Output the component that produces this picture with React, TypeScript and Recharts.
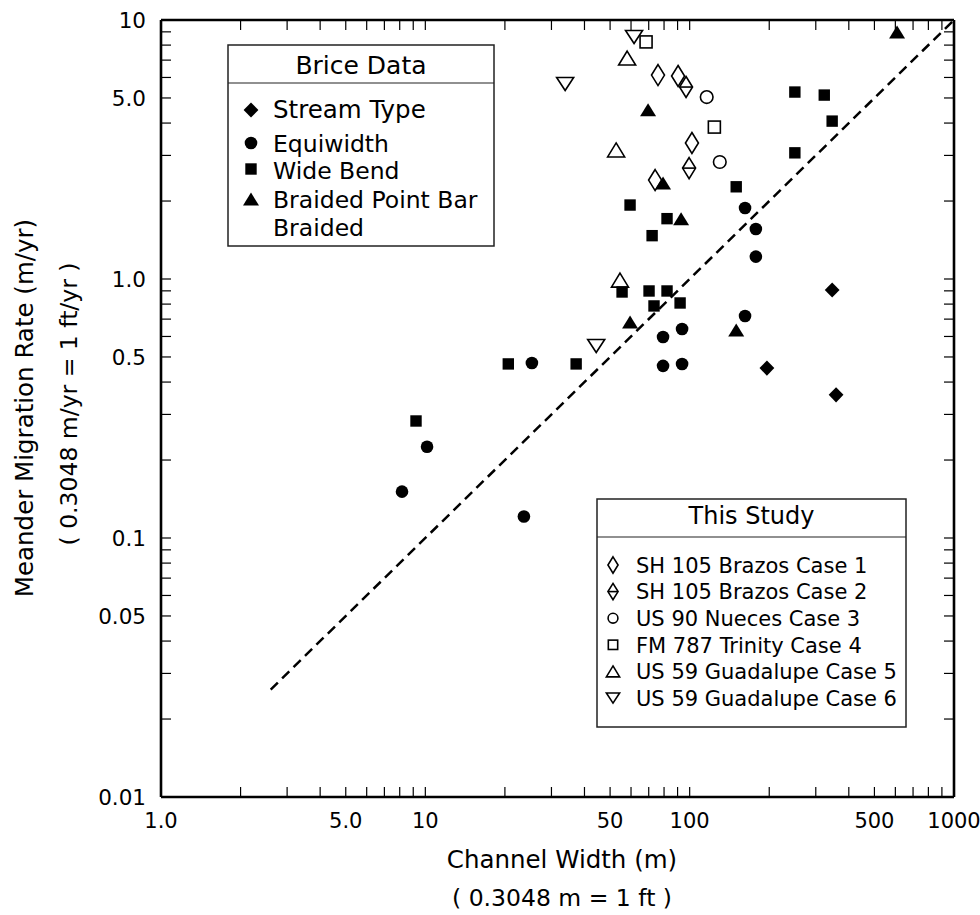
import React from 'react';
import { ScatterChart, Scatter, XAxis, YAxis, ReferenceLine } from 'recharts';

const FONT = '"DejaVu Sans", "Liberation Sans", sans-serif';

// channel width (m), migration rate (m/yr)
const streamType = [[346, 0.907], [196, 0.453], [358, 0.357]];
const equiwidth = [
  [8.16, 0.151], [10.15, 0.225], [23.6, 0.121], [25.3, 0.474], [79.3, 0.597], [79.3, 0.462],
  [93.6, 0.641], [93.6, 0.47], [162, 1.88], [178, 1.56], [178, 1.22], [162, 0.72],
];
const wideBend = [
  [9.22, 0.283], [20.6, 0.47], [37.2, 0.47], [55.5, 0.891], [70.2, 0.899], [82.1, 0.899],
  [73.3, 0.787], [92, 0.808], [59.5, 1.93], [72.1, 1.47], [82.1, 1.71], [250, 5.27],
  [323, 5.13], [346, 4.07], [250, 3.07], [150, 2.27],
];
const braidedPointBar = [[69.6, 4.5], [79.3, 2.35], [92.8, 1.71], [609, 8.99], [59.5, 0.682], [150, 0.636]];

const case1 = [[75.9, 6.13], [90.4, 6.08], [102, 3.35], [74, 2.41]];
const case2 = [[96.9, 5.51], [99.5, 2.68]];
const case3 = [[116, 5.04], [130, 2.83]];
const case4 = [[68.4, 8.23], [124, 3.86]];
const case5 = [[58, 7.13], [52.7, 3.15], [54.5, 0.99]];
const case6 = [[61.6, 8.6], [33.8, 5.66], [44.3, 0.551]];

// dashed line y = x / 100
const equalityLine = [[2.6, 0.026], [1000, 10]];

const X_TICKS = [1, 2, 3, 4, 5, 6, 7, 8, 9, 10, 20, 30, 40, 50, 60, 70, 80, 90, 100, 200, 300, 400, 500, 600, 700, 800, 900, 1000];
const Y_TICKS = [0.01, 0.02, 0.03, 0.04, 0.05, 0.06, 0.07, 0.08, 0.09, 0.1, 0.2, 0.3, 0.4, 0.5, 0.6, 0.7, 0.8, 0.9, 1, 2, 3, 4, 5, 6, 7, 8, 9, 10];
const X_LABELS: Record<number, string> = { 1: '1.0', 5: '5.0', 10: '10', 50: '50', 100: '100', 500: '500', 1000: '1000' };
const Y_LABELS: Record<number, string> = { 0.01: '0.01', 0.05: '0.05', 0.1: '0.1', 0.5: '0.5', 1: '1.0', 5: '5.0', 10: '10' };

const toPoints = (rows: number[][]) => rows.map(([w, r]) => ({ w, r }));

// plot box edges (margin.top and chart width - margin.right)
const PLOT_TOP = 20;
const PLOT_RIGHT = 954;
const TICK_LEN = 10;
const TICK_W = 1.2;

// bottom ticks also mirror onto the top edge
const BottomTick = ({ x, y, payload }: any) => {
  const label = X_LABELS[payload.value];
  return (
    <g>
      <line x1={x} y1={y} x2={x} y2={y - TICK_LEN} stroke="#000" strokeWidth={TICK_W} />
      <line x1={x} y1={PLOT_TOP} x2={x} y2={PLOT_TOP + TICK_LEN} stroke="#000" strokeWidth={TICK_W} />
      {label && (
        <text x={x} y={y + 31} textAnchor="middle" fontSize={21} fontFamily={FONT} fill="#000">
          {label}
        </text>
      )}
    </g>
  );
};
// left ticks also mirror onto the right edge
const LeftTick = ({ x, y, payload }: any) => {
  const label = Y_LABELS[payload.value];
  return (
    <g>
      <line x1={x} y1={y} x2={x + TICK_LEN} y2={y} stroke="#000" strokeWidth={TICK_W} />
      <line x1={PLOT_RIGHT} y1={y} x2={PLOT_RIGHT - TICK_LEN} y2={y} stroke="#000" strokeWidth={TICK_W} />
      {label && (
        <text x={x - 15} y={y + 7.8} textAnchor="end" fontSize={21.5} fontFamily={FONT} fill="#000">
          {label}
        </text>
      )}
    </g>
  );
};

// marker glyphs
const diamond = (cx: number, cy: number, hw: number, hh: number) =>
  `${cx},${cy - hh} ${cx + hw},${cy} ${cx},${cy + hh} ${cx - hw},${cy}`;
const upTri = (cx: number, cy: number, hw: number, hh: number) =>
  `${cx},${cy - hh} ${cx + hw},${cy + hh} ${cx - hw},${cy + hh}`;
const downTri = (cx: number, cy: number, hw: number, hh: number) =>
  `${cx},${cy + hh} ${cx + hw},${cy - hh} ${cx - hw},${cy - hh}`;

const SW = 1.6;
const mk = {
  fDiamond: (cx: number, cy: number, s = 1) => <polygon points={diamond(cx, cy, 7.4 * s, 7.6 * s)} fill="#000" />,
  fCircle: (cx: number, cy: number, s = 1) => <circle cx={cx} cy={cy} r={6.3 * s} fill="#000" />,
  fSquare: (cx: number, cy: number, s = 1) => (
    <rect x={cx - 5.7 * s} y={cy - 5.7 * s} width={11.4 * s} height={11.4 * s} fill="#000" />
  ),
  fTriangle: (cx: number, cy: number, s = 1) => <polygon points={upTri(cx, cy, 8 * s, 6.5 * s)} fill="#000" />,
  oDiamond: (cx: number, cy: number, s = 1) => (
    <polygon points={diamond(cx, cy, 6.5 * s, 10.5 * s)} fill="none" stroke="#000" strokeWidth={SW} />
  ),
  oDiamondBar: (cx: number, cy: number, s = 1) => (
    <g>
      <polygon points={diamond(cx, cy, 6.5 * s, 10.5 * s)} fill="none" stroke="#000" strokeWidth={SW} />
      <line x1={cx - 6.5 * s} y1={cy} x2={cx + 6.5 * s} y2={cy} stroke="#000" strokeWidth={SW} />
    </g>
  ),
  oCircle: (cx: number, cy: number, s = 1) => (
    <circle cx={cx} cy={cy} r={6.3 * s} fill="none" stroke="#000" strokeWidth={SW} />
  ),
  oSquare: (cx: number, cy: number, s = 1) => (
    <rect x={cx - 6 * s} y={cy - 6 * s} width={12 * s} height={12 * s} fill="none" stroke="#000" strokeWidth={SW} />
  ),
  oUp: (cx: number, cy: number, s = 1) => (
    <polygon points={upTri(cx, cy, 8.5 * s, 7 * s)} fill="none" stroke="#000" strokeWidth={SW} />
  ),
  oDown: (cx: number, cy: number, s = 1) => (
    <polygon points={downTri(cx, cy, 8.5 * s, 6.5 * s)} fill="none" stroke="#000" strokeWidth={SW} />
  ),
};

const shapeOf = (draw: (cx: number, cy: number) => React.ReactElement) => (p: any) => draw(p.cx, p.cy);

const SERIES = [
  { name: 'Stream Type', data: streamType, draw: mk.fDiamond },
  { name: 'Equiwidth', data: equiwidth, draw: mk.fCircle },
  { name: 'Wide Bend', data: wideBend, draw: mk.fSquare },
  { name: 'Braided Point Bar', data: braidedPointBar, draw: mk.fTriangle },
  { name: 'SH 105 Brazos Case 1', data: case1, draw: mk.oDiamond },
  { name: 'SH 105 Brazos Case 2', data: case2, draw: mk.oDiamondBar },
  { name: 'US 90 Nueces Case 3', data: case3, draw: mk.oCircle },
  { name: 'FM 787 Trinity Case 4', data: case4, draw: mk.oSquare },
  { name: 'US 59 Guadalupe Case 5', data: case5, draw: mk.oUp },
  { name: 'US 59 Guadalupe Case 6', data: case6, draw: mk.oDown },
];

const BRICE_ROWS = [
  { label: 'Stream Type', draw: mk.fDiamond, y: 118, my: 110, size: 24.5 },
  { label: 'Equiwidth', draw: mk.fCircle, y: 152, my: 143, size: 23.5 },
  { label: 'Wide Bend', draw: mk.fSquare, y: 179, my: 169, size: 23.5 },
  { label: 'Braided Point Bar', draw: mk.fTriangle, y: 208, my: 199, size: 23.5 },
  { label: 'Braided', draw: null, y: 236, my: 0, size: 23.5 },
];
const STUDY_ROWS = [
  { label: 'SH 105 Brazos Case 1', draw: mk.oDiamond },
  { label: 'SH 105 Brazos Case 2', draw: mk.oDiamondBar },
  { label: 'US 90 Nueces Case 3', draw: mk.oCircle },
  { label: 'FM 787 Trinity Case 4', draw: mk.oSquare },
  { label: 'US 59 Guadalupe Case 5', draw: mk.oUp },
  { label: 'US 59 Guadalupe Case 6', draw: mk.oDown },
];

function Overlay() {
  return (
    <svg width={980} height={915} style={{ position: 'absolute', left: 0, top: 0, pointerEvents: 'none' }} fontFamily={FONT}>
      {/* Brice legend */}
      <rect x={228} y={45} width={266} height={201} fill="#fff" stroke="#222" strokeWidth={1.5} />
      <line x1={228} y1={83} x2={494} y2={83} stroke="#222" strokeWidth={1.2} />
      <text x={361} y={73.5} textAnchor="middle" fontSize={25}>Brice Data</text>
      {BRICE_ROWS.map((r) => (
        <g key={r.label}>
          {r.draw && r.draw(251, r.my)}
          <text x={273} y={r.y} fontSize={r.size}>{r.label}</text>
        </g>
      ))}

      {/* This Study legend */}
      <rect x={597} y={499} width={309} height={228} fill="#fff" stroke="#222" strokeWidth={1.5} />
      <line x1={597} y1={537} x2={906} y2={537} stroke="#222" strokeWidth={1.2} />
      <text x={751.5} y={523.7} textAnchor="middle" fontSize={24}>This Study</text>
      {STUDY_ROWS.map((r, i) => (
        <g key={r.label}>
          {r.draw(613, 565 + i * 26.6, 0.78)}
          <text x={636} y={572.7 + i * 26.6} fontSize={21}>{r.label}</text>
        </g>
      ))}

      {/* axis titles */}
      <text x={562} y={868} textAnchor="middle" fontSize={24.5}>Channel Width (m)</text>
      <text x={562} y={906} textAnchor="middle" fontSize={23.5}>( 0.3048 m = 1 ft )</text>
      <text transform="translate(33,408) rotate(-90)" textAnchor="middle" fontSize={24.5}>
        Meander Migration Rate (m/yr)
      </text>
      <text transform="translate(77,404) rotate(-90)" textAnchor="middle" fontSize={23.5}>
        ( 0.3048 m/yr = 1 ft/yr )
      </text>
    </svg>
  );
}

export default function App() {
  const frame = { stroke: '#000', strokeWidth: 2.6 };
  return (
    <div style={{ position: 'absolute', left: 0, top: 0, width: 980, height: 915, background: '#fff' }}>
      <ScatterChart width={980} height={915} margin={{ top: PLOT_TOP, right: 980 - PLOT_RIGHT, bottom: 0, left: 0 }}>
        <XAxis
          type="number"
          dataKey="w"
          scale="log"
          domain={[1, 1000]}
          allowDataOverflow
          ticks={X_TICKS}
          interval={0}
          height={118}
          tickSize={0}
          tickMargin={0}
          tickLine={false}
          axisLine={frame}
          tick={BottomTick}
        />
        <YAxis
          type="number"
          dataKey="r"
          scale="log"
          domain={[0.01, 10]}
          allowDataOverflow
          ticks={Y_TICKS}
          interval={0}
          width={161}
          tickSize={0}
          tickMargin={0}
          tickLine={false}
          axisLine={frame}
          tick={LeftTick}
        />
        {/* top and right edges of the frame */}
        <ReferenceLine y={10} stroke="#000" strokeWidth={2.6} />
        <ReferenceLine x={1000} stroke="#000" strokeWidth={2.6} />
        <ReferenceLine
          segment={[
            { x: equalityLine[0][0], y: equalityLine[0][1] },
            { x: equalityLine[1][0], y: equalityLine[1][1] },
          ]}
          stroke="#000"
          strokeWidth={2.5}
          strokeDasharray="10 6"
        />
        {SERIES.map((s) => (
          <Scatter
            key={s.name}
            name={s.name}
            data={toPoints(s.data)}
            shape={shapeOf(s.draw)}
            isAnimationActive={false}
          />
        ))}
      </ScatterChart>
      <Overlay />
    </div>
  );
}
